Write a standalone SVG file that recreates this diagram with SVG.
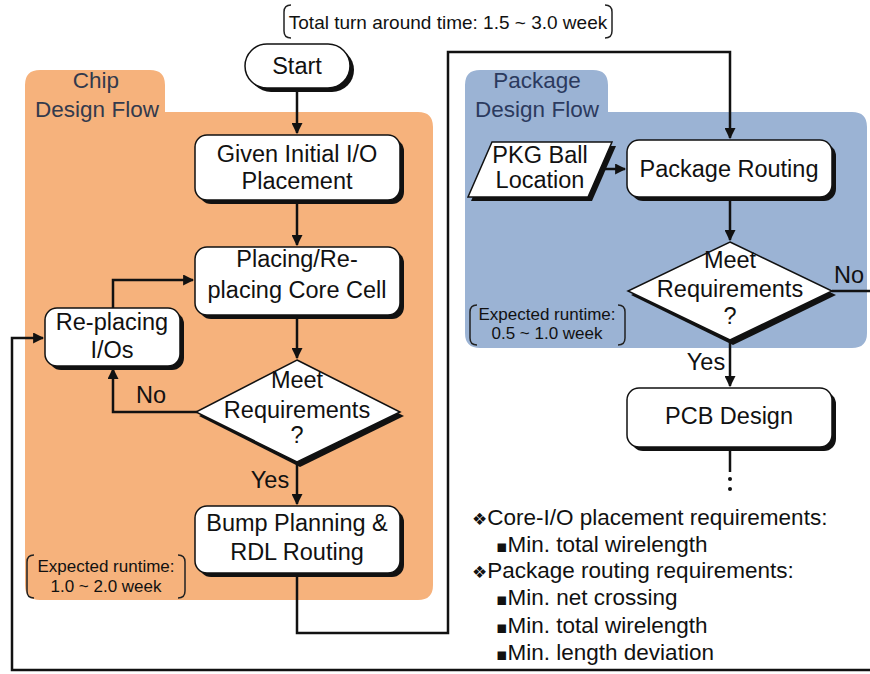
<svg xmlns="http://www.w3.org/2000/svg" width="870" height="674" viewBox="0 0 870 674">
<defs>
<marker id="arr" viewBox="0 0 10 10" refX="9" refY="5" markerWidth="11" markerHeight="11" markerUnits="userSpaceOnUse" orient="auto">
<path d="M0,0 L10,5 L0,10 Z" fill="#111"/>
</marker>
<style>
text{font-family:"Liberation Sans",Arial,sans-serif;fill:#111;}
.lbl{font-size:23.5px;text-anchor:middle;}
.rt{font-size:22.5px;text-anchor:middle;}
.sm{font-size:17px;text-anchor:middle;}
.req{font-size:22.5px;}
.box{fill:#fff;stroke:#111;stroke-width:1.5;}
.sh{fill:#111;}
.con{fill:none;stroke:#111;stroke-width:2.5;}
.brk{fill:none;stroke:#222;stroke-width:1.5;}
.sym{font-family:"DejaVu Sans",sans-serif;font-size:17px;}
</style>
</defs>
<rect width="870" height="674" fill="#fff"/>

<g id="chip-region">
<path d="M25,85 Q25,70 40,70 H150 Q165,70 165,85 V112 H418 Q433,112 433,127 V585 Q433,600 418,600 H40 Q25,600 25,585 Z" fill="#F6B27C"/>
<text class="rt" x="96" y="88" style="fill:#333a4c">Chip</text>
<text class="rt" x="97" y="117" style="fill:#333a4c">Design Flow</text>
</g>

<g id="package-region">
<path d="M465,85 Q465,70 480,70 H593 Q608,70 608,85 V112 H852 Q867,112 867,127 V333 Q867,348 852,348 H480 Q465,348 465,333 Z" fill="#9BB3D4"/>
<text class="rt" x="537" y="88" style="fill:#2b3a5e">Package</text>
<text class="rt" x="537" y="117" style="fill:#2b3a5e">Design Flow</text>
</g>

<g id="title">
<path class="brk" d="M291,5 Q284,5 284,12 V31 Q284,38 291,38"/>
<path class="brk" d="M605,5 Q612,5 612,12 V31 Q612,38 605,38"/>
<text x="448" y="29" style="font-size:19px;text-anchor:middle">Total turn around time: 1.5 ~ 3.0 week</text>
</g>

<g id="connectors">
<path class="con" d="M297,88 V133" marker-end="url(#arr)"/>
<path class="con" d="M297,200 V245" marker-end="url(#arr)"/>
<path class="con" d="M297,317 V358" marker-end="url(#arr)"/>
<path class="con" d="M297,462 V504" marker-end="url(#arr)"/>
<path class="con" d="M197,412 H113 V369" marker-end="url(#arr)"/>
<path class="con" d="M113,308 V280 H193" marker-end="url(#arr)"/>
<path class="con" d="M297,575 V633 H448 V52 H730 V138" marker-end="url(#arr)"/>
<path class="con" d="M598,169 H625" marker-end="url(#arr)"/>
<path class="con" d="M730,198 V240" marker-end="url(#arr)"/>
<path class="con" d="M730,340 V386" marker-end="url(#arr)"/>
<path class="con" d="M832,291 H872"/>
<path class="con" d="M872,670 H12 V338 H43" marker-end="url(#arr)"/>
<path class="con" d="M730,449 V472"/>
<circle cx="730" cy="479" r="2" fill="#111"/>
<circle cx="730" cy="489" r="2" fill="#111"/>
<text class="lbl" x="151" y="403">No</text>
<text class="lbl" x="270" y="488">Yes</text>
<text class="lbl" x="849" y="283">No</text>
<text class="lbl" x="706" y="370">Yes</text>
</g>

<g id="start">
<rect class="sh" x="249" y="48" width="105" height="44" rx="22"/>
<rect class="box" x="245" y="44" width="105" height="44" rx="22"/>
<text class="lbl" x="297" y="74">Start</text>
</g>

<g id="given-io">
<rect class="sh" x="199" y="139" width="205" height="65" rx="12"/>
<rect class="box" x="195" y="135" width="205" height="65" rx="12"/>
<text class="lbl" x="297" y="162">Given Initial I/O</text>
<text class="lbl" x="297" y="189">Placement</text>
</g>

<g id="placing-core">
<rect class="sh" x="199" y="251" width="205" height="68" rx="12"/>
<rect class="box" x="195" y="247" width="205" height="68" rx="12"/>
<text class="lbl" x="297" y="267">Placing/Re-</text>
<text class="lbl" x="297" y="298">placing Core Cell</text>
</g>

<g id="replacing-io">
<rect class="sh" x="49" y="312" width="135" height="58" rx="12"/>
<rect class="box" x="45" y="308" width="135" height="58" rx="12"/>
<text class="lbl" x="112" y="330">Re-placing</text>
<text class="lbl" x="112" y="358">I/Os</text>
</g>

<g id="meet-chip">
<polygon class="sh" points="300,364 404,416 300,467 199,416"/>
<polygon class="box" points="297,360 400,412 297,462 196,412"/>
<text class="lbl" x="297" y="388">Meet</text>
<text class="lbl" x="297" y="418">Requirements</text>
<text class="lbl" x="297" y="443">?</text>
</g>

<g id="bump-rdl">
<rect class="sh" x="199" y="510" width="205" height="67" rx="12"/>
<rect class="box" x="195" y="506" width="205" height="67" rx="12"/>
<text class="lbl" x="297" y="531">Bump Planning &amp;</text>
<text class="lbl" x="297" y="560">RDL Routing</text>
</g>

<g id="chip-runtime">
<path class="brk" d="M34,555 Q27,555 27,562 V591 Q27,598 34,598"/>
<path class="brk" d="M178,555 Q185,555 185,562 V591 Q185,598 178,598"/>
<text class="sm" x="106" y="572">Expected runtime:</text>
<text class="sm" x="106" y="592">1.0 ~ 2.0 week</text>
</g>

<g id="pkg-ball">
<polygon class="sh" points="495,146 616,146 592,201 471,201"/>
<polygon class="box" points="492,142 612,142 588,197 468,197"/>
<text class="lbl" x="540" y="163">PKG Ball</text>
<text class="lbl" x="540" y="188">Location</text>
</g>

<g id="package-routing">
<rect class="sh" x="631" y="144" width="205" height="57" rx="12"/>
<rect class="box" x="627" y="140" width="205" height="57" rx="12"/>
<text class="lbl" x="729" y="177">Package Routing</text>
</g>

<g id="meet-package">
<polygon class="sh" points="733,246 836,295 733,345 631,295"/>
<polygon class="box" points="730,242 832,291 730,340 628,291"/>
<text class="lbl" x="730" y="268">Meet</text>
<text class="lbl" x="730" y="297">Requirements</text>
<text class="lbl" x="730" y="324">?</text>
</g>

<g id="pkg-runtime">
<path class="brk" d="M477,305 Q470,305 470,312 V338 Q470,345 477,345"/>
<path class="brk" d="M618,305 Q625,305 625,312 V338 Q625,345 618,345"/>
<text class="sm" x="547" y="320">Expected runtime:</text>
<text class="sm" x="547" y="339">0.5 ~ 1.0 week</text>
</g>

<g id="pcb-design">
<rect class="sh" x="631" y="392" width="205" height="59" rx="12"/>
<rect class="box" x="627" y="388" width="205" height="59" rx="12"/>
<text class="lbl" x="729" y="424">PCB Design</text>
</g>

<g id="requirements">
<text class="req" x="472" y="525"><tspan class="sym">❖</tspan>Core-I/O placement requirements:</text>
<text class="req" x="496" y="552"><tspan class="sym">▪</tspan>Min. total wirelength</text>
<text class="req" x="472" y="578"><tspan class="sym">❖</tspan>Package routing requirements:</text>
<text class="req" x="496" y="605"><tspan class="sym">▪</tspan>Min. net crossing</text>
<text class="req" x="496" y="633"><tspan class="sym">▪</tspan>Min. total wirelength</text>
<text class="req" x="496" y="660"><tspan class="sym">▪</tspan>Min. length deviation</text>
</g>
</svg>
